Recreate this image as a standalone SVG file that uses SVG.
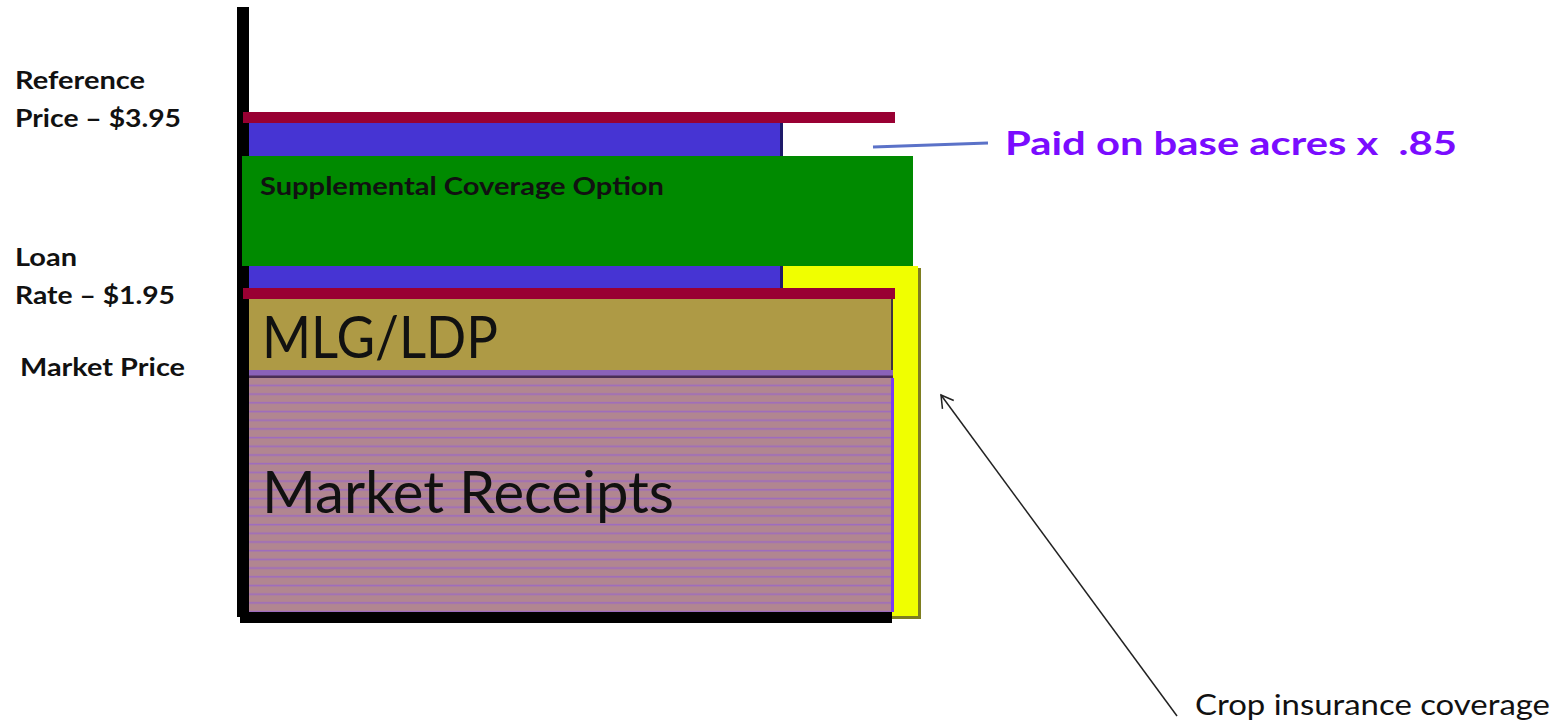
<svg xmlns="http://www.w3.org/2000/svg" width="1556" height="722" viewBox="0 0 1556 722">
  <defs>
    <style>
      .lbl { font-family: Lato, "Open Sans", "Liberation Sans", sans-serif; font-weight: 700; fill: #111; }
      .big { font-family: Lato, "Open Sans", "Liberation Sans", sans-serif; font-weight: 400; fill: #111; }
      .price-line { fill: #990033; }
      .plc { fill: #4634D3; }
      .edge { fill: #1E1A6A; }
    </style>
    <pattern id="stripes" patternUnits="userSpaceOnUse" x="0" y="378" width="12" height="8.7">
      <rect x="0" y="0" width="12" height="8.7" fill="#B18690"/>
      <rect x="0" y="6.6" width="12" height="1.6" fill="#9A66C8" opacity="0.85"/>
    </pattern>
    <marker id="openArrow" markerWidth="16" markerHeight="16" refX="14" refY="8" orient="auto" markerUnits="userSpaceOnUse">
      <path d="M2,1 L14,8 L2,15" fill="none" stroke="#222" stroke-width="1.5"/>
    </marker>
  </defs>

  <rect width="1556" height="722" fill="#ffffff"/>

  <!-- vertical axis -->
  <g id="axis">
    <rect x="237" y="7" width="12" height="610" fill="#000"/>
  </g>

  <!-- price-loss coverage band (between loan rate and reference price) -->
  <g id="plc-band">
    <rect class="plc" x="249" y="123" width="533" height="166"/>
    <rect class="edge" x="780" y="123" width="3" height="166"/>
  </g>

  <!-- crop insurance coverage -->
  <g id="crop-insurance">
    <rect x="785" y="268" width="136" height="351" fill="#7E7E20"/>
    <rect x="783" y="266" width="135" height="350" fill="#F0FF00"/>
  </g>

  <!-- supplemental coverage option -->
  <g id="sco">
    <rect x="242" y="156" width="671" height="110" fill="#008A00"/>
    <text class="lbl" x="260" y="195" font-size="24" textLength="404" lengthAdjust="spacingAndGlyphs">Supplemental Coverage Option</text>
  </g>

  <!-- reference price line -->
  <g id="reference-price-line">
    <rect class="price-line" x="243" y="112" width="652" height="11"/>
  </g>

  <!-- marketing loan gain / loan deficiency payment -->
  <g id="mlg-ldp">
    <rect x="249" y="299" width="644" height="72" fill="#AE9A45"/>
    <rect x="891" y="299" width="2" height="79" fill="#3E3540"/>
    <rect x="249" y="370" width="644" height="6" fill="#8A62B8"/>
    <rect x="249" y="375.5" width="644" height="2.5" fill="#4A2E55"/>
    <text class="big" x="262" y="358" font-size="58" textLength="236" lengthAdjust="spacingAndGlyphs">MLG/LDP</text>
  </g>

  <!-- loan rate line -->
  <g id="loan-rate-line">
    <rect class="price-line" x="243" y="288" width="652" height="11"/>
  </g>

  <!-- market receipts -->
  <g id="market-receipts">
    <rect x="249" y="378" width="644" height="234" fill="url(#stripes)"/>
    <rect x="891" y="378" width="3" height="234" fill="#7C3CF0"/>
    <text class="big" x="262" y="513" font-size="58" textLength="412" lengthAdjust="spacingAndGlyphs">Market Receipts</text>
  </g>

  <!-- horizontal axis, drawn over the coverage boxes -->
  <g id="base-axis">
    <rect x="240" y="612" width="652" height="11" fill="#000"/>
  </g>

  <!-- price labels on the left -->
  <g id="price-labels">
    <text class="lbl" x="15" y="89" font-size="25" textLength="130" lengthAdjust="spacingAndGlyphs">Reference</text>
    <text class="lbl" x="15" y="127" font-size="25" textLength="166" lengthAdjust="spacingAndGlyphs">Price – $3.95</text>
    <text class="lbl" x="15" y="266" font-size="25" textLength="62" lengthAdjust="spacingAndGlyphs">Loan</text>
    <text class="lbl" x="15" y="304" font-size="25" textLength="160" lengthAdjust="spacingAndGlyphs">Rate – $1.95</text>
    <text class="lbl" x="20" y="376" font-size="25" textLength="165" lengthAdjust="spacingAndGlyphs">Market Price</text>
  </g>

  <!-- callouts -->
  <g id="connectors">
    <line x1="873" y1="147" x2="988" y2="143" stroke="#5B72C8" stroke-width="3"/>
    <line x1="1177" y1="716" x2="941" y2="395" stroke="#222" stroke-width="1.5" marker-end="url(#openArrow)"/>
  </g>

  <g id="callout-labels">
    <text x="1005" y="155" font-family="Lato, 'Open Sans', 'Liberation Sans', sans-serif" font-weight="700" font-size="33" fill="#7A0CFF" textLength="452" lengthAdjust="spacingAndGlyphs" xml:space="preserve">Paid on base acres x  .85</text>
    <text x="1195" y="715" font-family="Lato, 'Open Sans', 'Liberation Sans', sans-serif" font-weight="400" font-size="29" fill="#111" textLength="355" lengthAdjust="spacingAndGlyphs">Crop insurance coverage</text>
  </g>
</svg>
